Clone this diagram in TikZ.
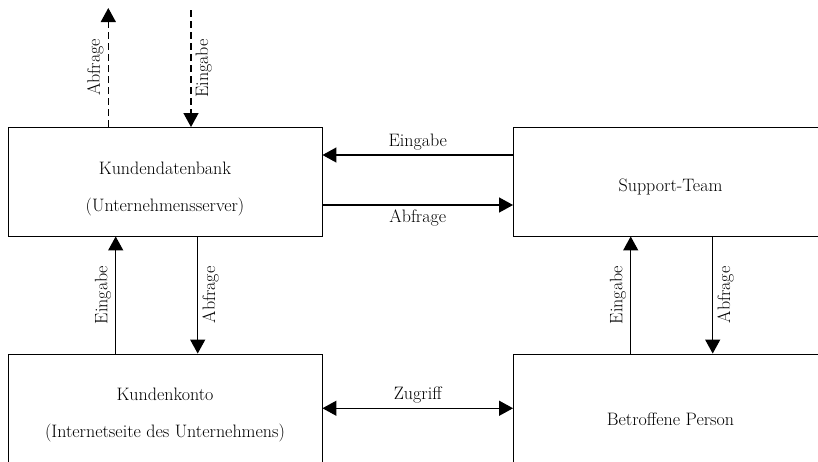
\documentclass[tikz,border=0pt]{standalone}
\usepackage{tikz}
\usetikzlibrary{arrows.meta, positioning, calc}

\begin{document}
\begin{tikzpicture}[
    x=1pt, y=-1pt,
    box/.style={rectangle, draw=black, line width=0.9pt, fill=white,
                minimum width=314pt, minimum height=108.5pt, inner sep=0pt},
    boxtext/.style={align=center, inner sep=0pt},
    arr/.style={-{Triangle[length=14pt, width=15pt]}, line width=1.3pt},
    dashline/.style={dash pattern=on 7pt off 4pt},
    lbl/.style={inner sep=4pt},
    font=\fontsize{18}{37}\selectfont
  ]

    \useasboundingbox (0,0) rectangle (818,461);

    % Kundendatenbank
    \node[box] (kdb) at (165,181.75) {};
    \node[boxtext] (kdbtxt) at ([yshift=-6.75pt]kdb.center) {Kundendatenbank\\(Unternehmensserver)};

    % Support-Team
    \node[box] (sup) at (670.5,181.75) {};
    \node[boxtext] (suptxt) at ([yshift=-5pt]sup.center) {Support-Team};

    % Kundenkonto
    \node[box] (kk) at (165,408.25) {};
    \node[boxtext] (kktxt) at ([yshift=-6.75pt]kk.center) {Kundenkonto\\(Internetseite des Unternehmens)};

    % Betroffene Person
    \node[box] (bp) at (670.5,408.25) {};
    \node[boxtext] (bptxt) at ([yshift=-11pt]bp.center) {Betroffene Person};

    % Open ends above
    \coordinate (qtop) at (108.3,8);
    \coordinate (etop) at (191,10);

    % Arrows
    \draw[arr, dashline] (kdb.north -| qtop) -- (qtop)
      node[midway, lbl, rotate=90, anchor=south] {Abfrage};
    \draw[arr, dashline] (etop) -- (kdb.north -| etop)
      node[midway, lbl, rotate=90, anchor=north] {Eingabe};

    \draw[arr] ([yshift=26.75pt]sup.west) -- ([yshift=26.75pt]kdb.east)
      node[midway, lbl, above] {Eingabe};
    \draw[arr] ([yshift=-23.25pt]kdb.east) -- ([yshift=-23.25pt]sup.west)
      node[midway, lbl, below] {Abfrage};

    \draw[arr] ([xshift=-49.3pt]kk.north) -- ([xshift=-49.3pt]kdb.south)
      node[midway, lbl, rotate=90, anchor=south] {Eingabe};
    \draw[arr] ([xshift=32.7pt]kdb.south) -- ([xshift=32.7pt]kk.north)
      node[midway, lbl, rotate=90, anchor=north] {Abfrage};

    \draw[arr] ([xshift=-39.8pt]bp.north) -- ([xshift=-39.8pt]sup.south)
      node[midway, lbl, rotate=90, anchor=south] {Eingabe};
    \draw[arr] ([xshift=42.2pt]sup.south) -- ([xshift=42.2pt]bp.north)
      node[midway, lbl, rotate=90, anchor=north] {Abfrage};

    \draw[arr, {Triangle[length=14pt, width=15pt]}-{Triangle[length=14pt, width=15pt]}] (kk.east) -- (bp.west)
      node[midway, lbl, above] {Zugriff};

  \end{tikzpicture}
\end{document}
